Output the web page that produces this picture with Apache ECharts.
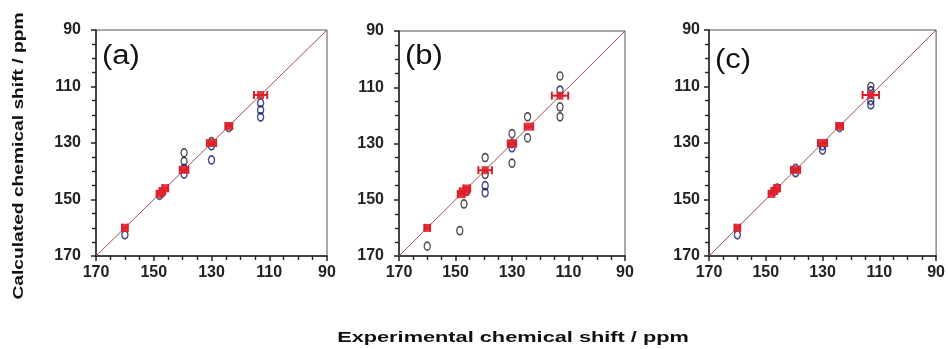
<!DOCTYPE html>
<html>
<head>
<meta charset="utf-8">
<script src="https://cdn.jsdelivr.net/npm/echarts@6/dist/echarts.min.js"></script>
<style>
  html, body { margin: 0; padding: 0; background: #fff; }
  #chart { width: 948px; height: 349px; }
</style>
</head>
<body>
<div id="chart"></div>
<script>
// 坐标轴刻度
var tickValues = [90, 110, 130, 150, 170];
var panelNames = ['(a)', '(b)', '(c)'];

// 实验值（红色，带误差棒），三幅图共用
var expShift = [160, 148, 147, 146, 139.5, 130, 124, 113];
var expErrA = [1.0, 1.0, 1.0, 1.0, 1.5, 1.6, 1.2, 2.3];
var expErrB = [1.0, 1.2, 1.5, 1.2, 2.4, 1.5, 1.5, 2.9];
var expErrC = [1.0, 1.0, 1.0, 1.0, 1.6, 1.6, 1.2, 2.9];

// 计算值 [实验, 计算]
var blueA = [[160, 162.5], [148, 148.5], [147, 147.5], [139.5, 139], [139.5, 141], [130, 131], [130, 136], [124, 124.5], [113, 115.8], [113, 118.3], [113, 120.8]];
var blackA = [[139.5, 133.5], [139.5, 136.5], [130, 129.5]];
var blueB = [[146, 147], [139.5, 145], [139.5, 147.5], [130, 130], [130, 131.5], [113, 111]];
var blackB = [[160, 166.5], [148.5, 161], [147, 151.5], [139.5, 135], [139.5, 141], [130, 126.5], [130, 137], [124.5, 120.5], [124.5, 128], [113, 106], [113, 117], [113, 120.5]];
var blueC = [[160, 162.5], [147, 147], [146, 146], [139.5, 139], [139.5, 140.5], [130, 132.5], [130, 131], [124, 124.5], [113, 111.5], [113, 115], [113, 116.5]];
var blackC = [[113, 110]];
var diagonal = [[170, 170], [90, 90]];

var chart = echarts.init(document.getElementById('chart'));

var grids = [
  { left: 96, top: 30, width: 231, height: 226, labelMargin: 15, label: [102, 43] },
  { left: 399, top: 31, width: 226, height: 225, labelMargin: 15, label: [405, 43] },
  { left: 709, top: 30, width: 228, height: 226, labelMargin: 9, label: [715, 47] }
];
var errs = [expErrA, expErrB, expErrC];
var blues = [blueA, blueB, blueC];
var blacks = [blackA, blackB, blackC];

function axisBase(margin) {
  return {
    type: 'value',
    min: 90,
    max: 170,
    interval: 20,
    inverse: true,
    splitLine: { show: false },
    axisLine: { show: true, onZero: false, lineStyle: { color: '#222', width: 1.5 } },
    axisTick: { show: true, length: 5, lineStyle: { color: '#222', width: 1.5 } },
    minorTick: { show: true, splitNumber: 4, length: 4, lineStyle: { color: '#222', width: 1.4 } },
    axisLabel: {
      margin: margin,
      color: '#222',
      fontSize: 16,
      fontWeight: 'bold',
      fontFamily: 'Liberation Sans'
    }
  };
}

// 误差棒
function renderErr(params, api) {
  var x = api.value(0), y = api.value(1), e = api.value(2);
  var p1 = api.coord([x - e, y]);
  var p2 = api.coord([x + e, y]);
  var h = 4;
  var st = { stroke: '#d8202a', lineWidth: 2 };
  return {
    type: 'group',
    children: [
      { type: 'line', shape: { x1: p1[0], y1: p1[1], x2: p2[0], y2: p2[1] }, style: st },
      { type: 'line', shape: { x1: p1[0], y1: p1[1] - h, x2: p1[0], y2: p1[1] + h }, style: st },
      { type: 'line', shape: { x1: p2[0], y1: p2[1] - h, x2: p2[0], y2: p2[1] + h }, style: st }
    ]
  };
}

var gridOpt = [], xAxes = [], yAxes = [], series = [], graphics = [];
grids.forEach(function (g, i) {
  gridOpt.push({
    left: g.left, top: g.top, width: g.width, height: g.height,
    show: true, borderColor: '#555', borderWidth: 1, backgroundColor: '#fff'
  });
  var xa = axisBase(9); xa.gridIndex = i; xa.position = 'bottom';
  var ya = axisBase(g.labelMargin); ya.gridIndex = i; ya.position = 'left';
  xAxes.push(xa);
  yAxes.push(ya);

  series.push({
    type: 'line', xAxisIndex: i, yAxisIndex: i, data: diagonal,
    symbol: 'none', silent: true,
    lineStyle: { color: '#9a5050', width: 1 }, z: 1
  });
  series.push({
    type: 'scatter', xAxisIndex: i, yAxisIndex: i,
    data: blacks[i], symbol: 'circle', symbolSize: [6, 8],
    itemStyle: { color: 'rgba(255,255,255,0)', borderColor: '#222', borderWidth: 1.5 }, z: 2
  });
  series.push({
    type: 'scatter', xAxisIndex: i, yAxisIndex: i,
    data: blues[i], symbol: 'circle', symbolSize: [6, 8],
    itemStyle: { color: 'rgba(255,255,255,0)', borderColor: '#1c1f6e', borderWidth: 1.6 }, z: 3
  });
  var errData = expShift.map(function (v, k) { return [v, v, errs[i][k]]; });
  series.push({
    type: 'custom', xAxisIndex: i, yAxisIndex: i,
    data: errData, encode: { x: 0, y: 1 },
    renderItem: renderErr, z: 4
  });
  series.push({
    type: 'scatter', xAxisIndex: i, yAxisIndex: i,
    data: expShift.map(function (v) { return [v, v]; }),
    symbol: 'rect', symbolSize: [7, 8],
    itemStyle: { color: '#e0202a', opacity: 0.9 }, z: 5
  });

  graphics.push({
    type: 'text', x: g.label[0], y: g.label[1], scaleX: 1.15,
    style: { text: panelNames[i], font: '27px "Liberation Sans"', fill: '#111', textVerticalAlign: 'top' }
  });
});

graphics.push({
  type: 'text', x: 513, y: 338, scaleX: 1.45,
  style: { text: 'Experimental chemical shift / ppm', font: 'bold 15px "Liberation Sans"', fill: '#111', textAlign: 'center', textVerticalAlign: 'middle' }
});
graphics.push({
  type: 'text', x: 19, y: 156, scaleX: 1.28, rotation: Math.PI / 2,
  style: { text: 'Calculated chemical shift / ppm', font: 'bold 15px "Liberation Sans"', fill: '#111', textAlign: 'center', textVerticalAlign: 'middle' }
});

chart.setOption({
  backgroundColor: '#fff',
  animation: false,
  grid: gridOpt,
  xAxis: xAxes,
  yAxis: yAxes,
  graphic: graphics,
  series: series
});
</script>
</body>
</html>
